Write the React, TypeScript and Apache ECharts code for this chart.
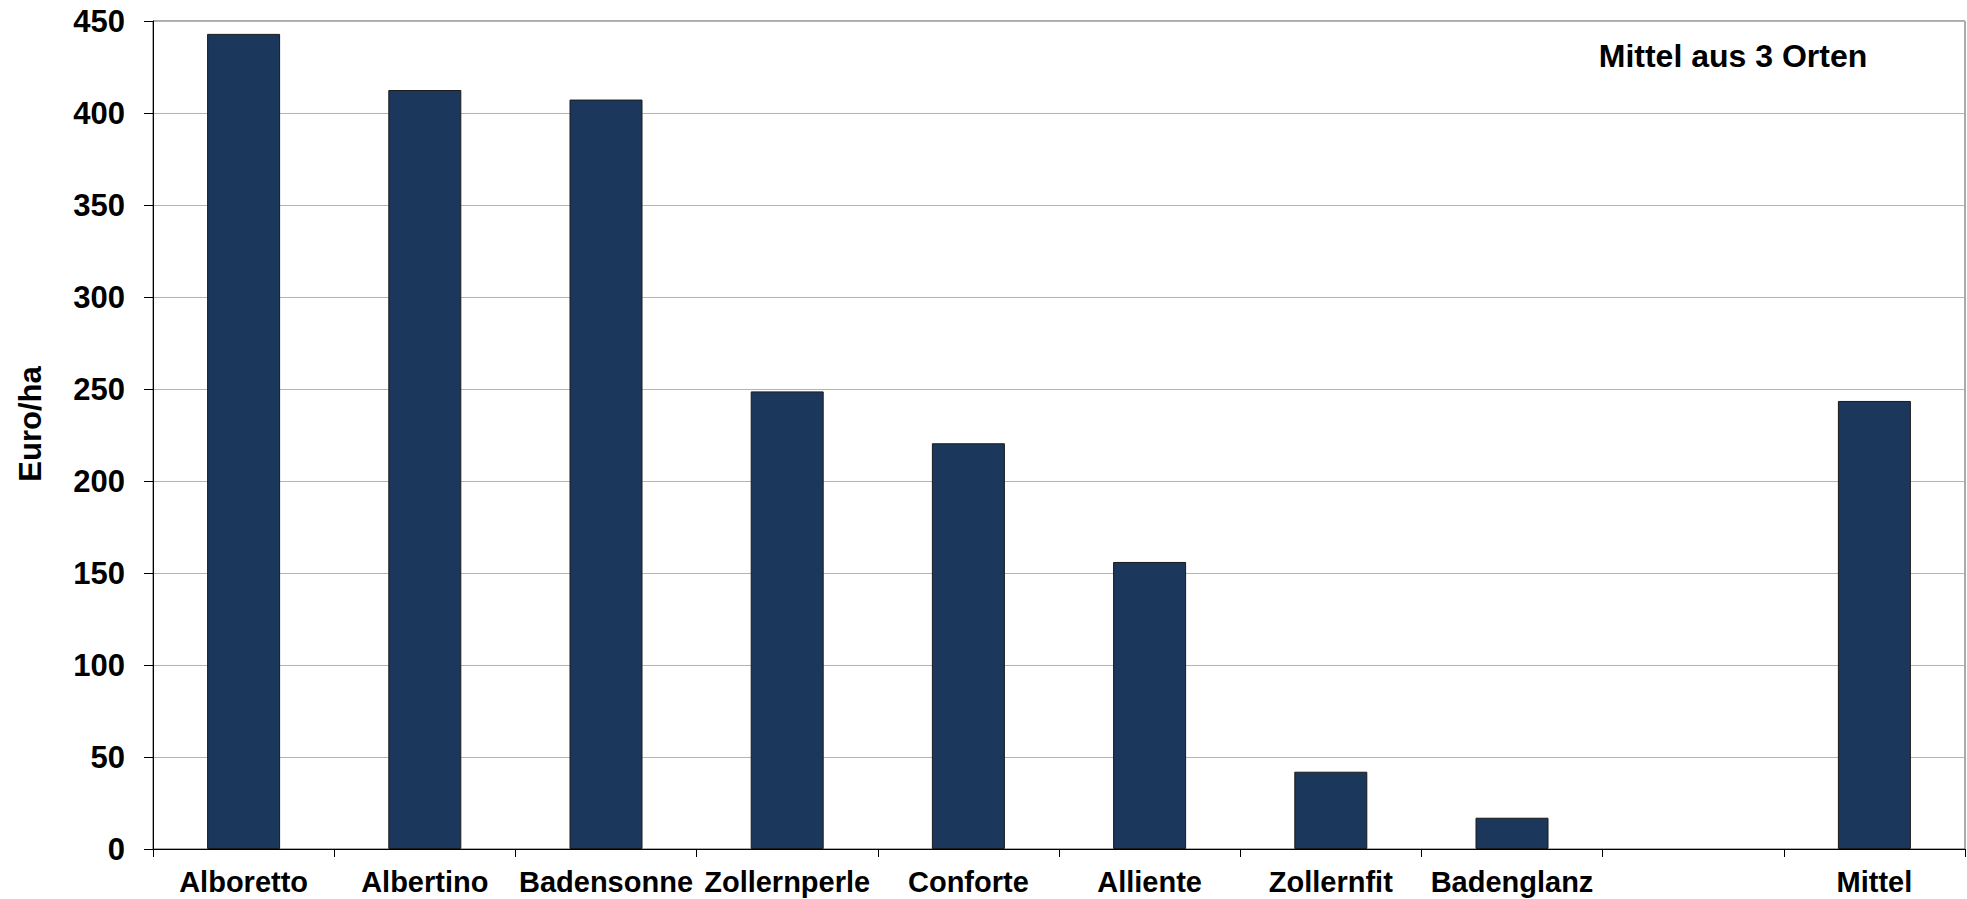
import React, { useEffect, useRef } from "react";
import * as echarts from "echarts";

const categories = [
  "Alboretto",
  "Albertino",
  "Badensonne",
  "Zollernperle",
  "Conforte",
  "Alliente",
  "Zollernfit",
  "Badenglanz",
  "",
  "Mittel",
];
const values: (number | null)[] = [443, 412.5, 407.3, 248.7, 220.5, 156, 42, 17, null, 243.5];
const yTicks = { min: 0, max: 450, interval: 50 };
const yAxisName = "Euro/ha";
const annotation = "Mittel aus 3 Orten";

const FONT = "'Liberation Sans', Arial, sans-serif";

export default function App() {
  const ref = useRef<HTMLDivElement>(null);
  useEffect(() => {
    if (!ref.current) return;
    const chart = echarts.init(ref.current, null, { renderer: "svg" });
    chart.setOption({
      animation: false,
      backgroundColor: "#ffffff",
      textStyle: { fontFamily: FONT },
      grid: {
        left: 153,
        right: 2,
        top: 21,
        bottom: 50,
        show: true,
        borderColor: "#555555",
        borderWidth: 1,
        backgroundColor: "transparent",
      },
      xAxis: {
        type: "category",
        data: categories,
        boundaryGap: true,
        axisLine: { show: true, lineStyle: { color: "#000000", width: 1 } },
        axisTick: { show: true, interval: 0, length: 8, lineStyle: { color: "#000000" } },
        axisLabel: {
          interval: 0,
          margin: 18,
          color: "#000000",
          fontFamily: FONT,
          fontWeight: "bold",
          fontSize: 29,
        },
        splitLine: { show: false },
      },
      yAxis: {
        type: "value",
        min: yTicks.min,
        max: yTicks.max,
        interval: yTicks.interval,
        axisLine: { show: true, lineStyle: { color: "#000000", width: 1 } },
        axisTick: { show: true, length: 9, lineStyle: { color: "#000000" } },
        axisLabel: {
          margin: 28,
          color: "#000000",
          fontFamily: FONT,
          fontWeight: "bold",
          fontSize: 31,
        },
        splitLine: { show: true, lineStyle: { color: "#b4b4b4", width: 1 } },
      },
      series: [
        {
          type: "bar",
          data: values,
          barWidth: 73,
          itemStyle: { color: "#1b375c", borderColor: "#1a1a1a", borderWidth: 1 },
        },
      ],
      graphic: [
        {
          type: "text",
          x: 30,
          y: 424,
          rotation: Math.PI / 2,
          style: {
            text: yAxisName,
            fill: "#000000",
            font: `bold 31px ${FONT}`,
            textAlign: "center",
            textVerticalAlign: "middle",
          },
        },
        {
          type: "text",
          x: 1733,
          y: 56,
          style: {
            text: annotation,
            fill: "#000000",
            font: `bold 32px ${FONT}`,
            textAlign: "center",
            textVerticalAlign: "middle",
          },
        },
      ],
    });
    return () => chart.dispose();
  }, []);
  return (
    <div
      ref={ref}
      style={{ position: "fixed", left: 0, top: 0, width: 1967, height: 899, background: "#fff" }}
    />
  );
}
